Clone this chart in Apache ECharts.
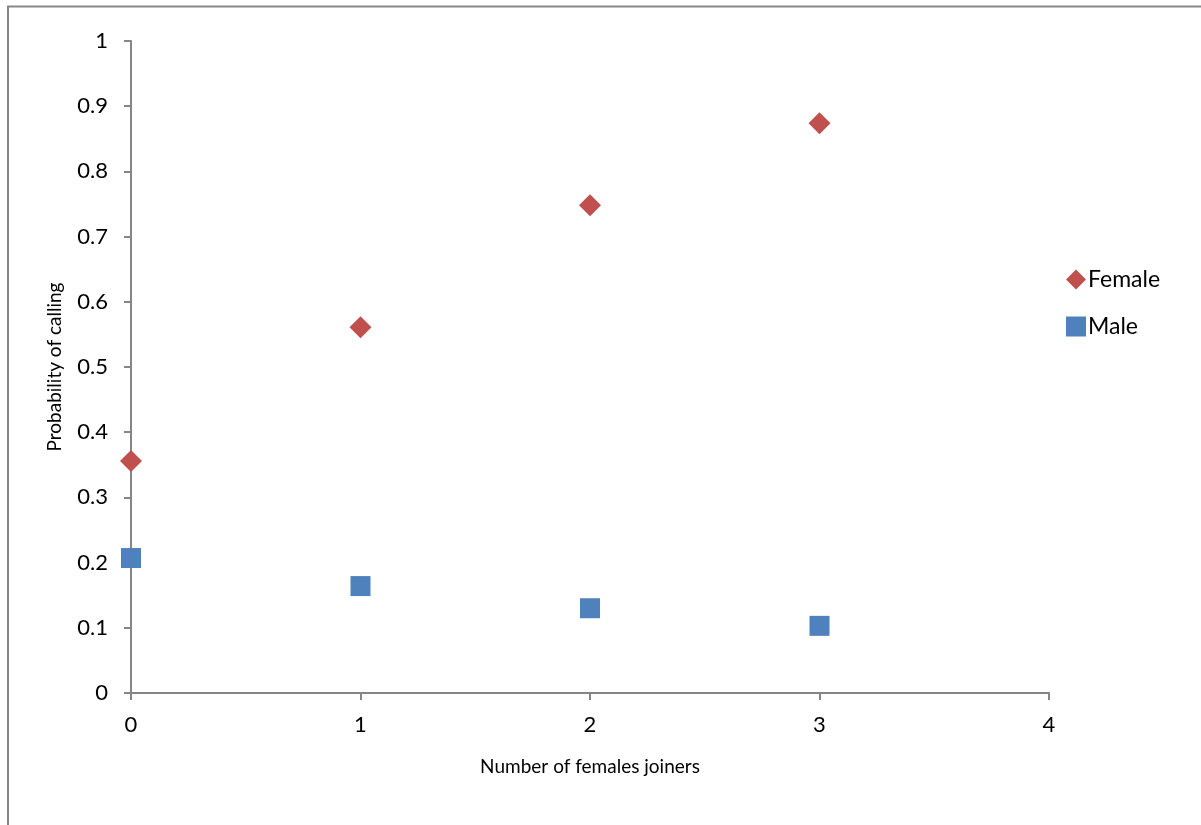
<!DOCTYPE html>
<html><head><meta charset="utf-8">
<script src="https://cdn.jsdelivr.net/npm/echarts@6/dist/echarts.min.js"></script>
<style>html,body{margin:0;padding:0;background:#fff}#c{width:1201px;height:825px}</style>
</head><body><div id="c"></div>
<script>
var xValues = [0, 1, 2, 3];
var femaleValues = [0.356, 0.561, 0.748, 0.874];
var maleValues = [0.207, 0.164, 0.130, 0.103];
var yTicks = [0, 0.1, 0.2, 0.3, 0.4, 0.5, 0.6, 0.7, 0.8, 0.9, 1];
var xTicks = [0, 1, 2, 3, 4];

var font = 'Lato, "Open Sans", sans-serif';
var chart = echarts.init(document.getElementById('c'));
chart.setOption({
  animation: false,
  backgroundColor: '#fff',
  graphic: [{
    type: 'rect', shape: {x: 8, y: 6.5, width: 1300, height: 900},
    style: {fill: 'none', stroke: '#868686', lineWidth: 2}, silent: true, z: -1
  }],
  grid: {left: 131, right: 152, top: 41, bottom: 132, containLabel: false},
  legend: {
    orient: 'vertical', left: 1061, top: 263, itemGap: 24, itemWidth: 20, itemHeight: 20,
    textStyle: {fontFamily: font, fontSize: 23, lineHeight: 22, color: '#000', padding: [0,0,0,-3]},
    data: [{name: 'Female', icon: 'diamond'}, {name: 'Male', icon: 'rect'}]
  },
  xAxis: {
    type: 'value', min: 0, max: 4, interval: 1,
    name: 'Number of females joiners', nameLocation: 'middle', nameGap: 64,
    nameTextStyle: {fontFamily: font, fontSize: 19, color: '#000'},
    axisLine: {show: true, onZero: false, lineStyle: {color: '#868686', width: 2}},
    axisTick: {show: true, length: 7, lineStyle: {color: '#868686', width: 2}},
    axisLabel: {fontFamily: font, fontSize: 22, color: '#000', margin: 21,
      formatter: function(v){ return xTicks.indexOf(v) >= 0 ? String(v) : ''; }},
    splitLine: {show: false}
  },
  yAxis: {
    type: 'value', min: 0, max: 1, interval: 0.1,
    name: 'Probability of calling', nameLocation: 'middle', nameGap: 67, nameRotate: 90,
    nameTextStyle: {fontFamily: font, fontSize: 19, color: '#000'},
    axisLine: {show: true, lineStyle: {color: '#868686', width: 2}},
    axisTick: {show: true, length: 7, lineStyle: {color: '#868686', width: 2}},
    axisLabel: {fontFamily: font, fontSize: 22, color: '#000', margin: 23,
      formatter: function(v){ var r = Math.round(v*10)/10; return yTicks.indexOf(r) >= 0 ? String(r) : ''; }},
    splitLine: {show: false}
  },
  series: [
    {name: 'Female', type: 'scatter', symbol: 'diamond', symbolSize: 22,
     itemStyle: {color: '#C0504D', opacity: 1},
     data: xValues.map(function(x, i){ return [x, femaleValues[i]]; })},
    {name: 'Male', type: 'scatter', symbol: 'rect', symbolSize: 20,
     itemStyle: {color: '#4F81BD', opacity: 1},
     data: xValues.map(function(x, i){ return [x, maleValues[i]]; })}
  ]
});
</script></body></html>
